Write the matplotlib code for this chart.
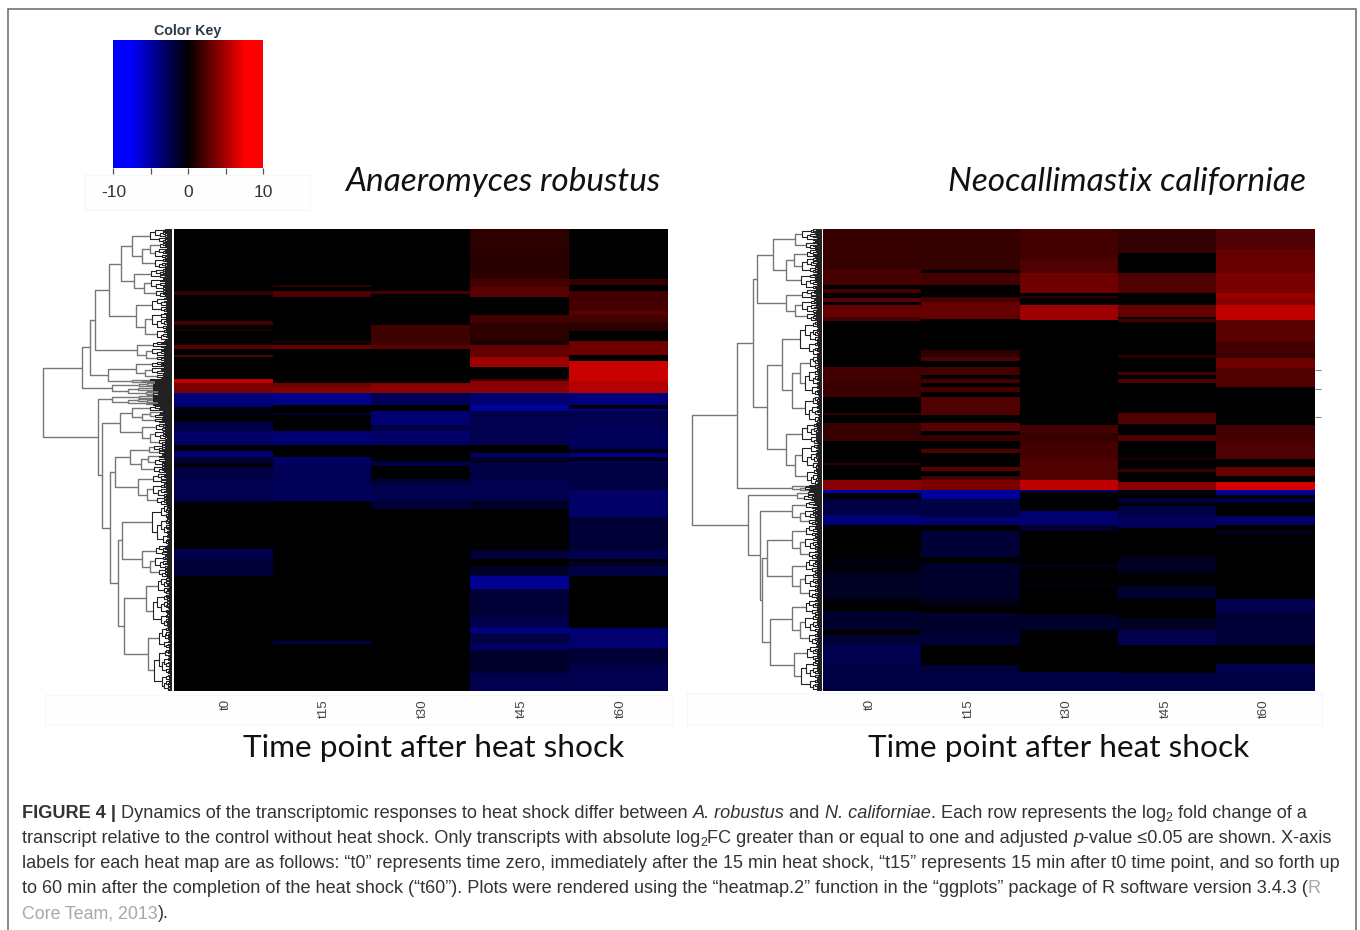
import numpy as np
import matplotlib
matplotlib.use("Agg")
import matplotlib.pyplot as plt
from matplotlib.colors import LinearSegmentedColormap
from matplotlib.collections import LineCollection
from matplotlib.patches import Rectangle
from matplotlib.transforms import ScaledTranslation

# ---------------- data: (end row, log2FC) runs, 231 rows, top to bottom ----------------
TIMEPOINTS = ["t0", "t15", "t30", "t45", "t60"]
KEY_TICKS = [-10, -5, 0, 5, 10]
KEY_LABELS = ["-10", "0", "10"]
KEY_LABEL_VALUES = [-10, 0, 10]
N_ROWS = 231
VALUE_GAIN = 0.68

A_T0 = [(31,0),(33,2.5),(46,0),(48,3),(50,0),(51,1),(58,0),(60,4),(63,0),(64,3.5),(75,0),(77,8.5),(82,5.5),
        (89,-5.5),(92,-.5),(93,-1),(96,0),(101,-3),(108,-4.5),(111,0),(114,-5),(117,-2.5),(119,0),(125,-3),
        (136,-3.5),(138,-1),(160,0),(165,-3.5),(168,-2.5),(173.5,-2.5),(231,0)]
A_T15 = [(28,0),(29,2),(31,0),(34,3.5),(56,0),(57,1.5),(58,0),(60,4.5),(77,0),(80,5),(82,6),(88,-6),(92,0),
         (93,-2),(101,0),(108,-5),(114,0),(117,-4.5),(125.5,-4),(136,-4),(139,-.3),(206,0),(207.5,-3),(231,0)]
A_T30 = [(31,0),(32.5,3),(48,0),(58,2.8),(60,4),(77,0),(82,6),(88,-4),(91,0),(98,-5),(101,-3),(108,-4.5),
         (116,0),(118.5,-3),(125,0),(128,-2.5),(136,-3.5),(140,-2.5),(231,0)]
A_T45 = [(12,2),(19,1.8),(25,2),(29,3),(34,4),(43,0),(47,3),(56,2),(58,1),(64,4.5),(69,7),(75,0),(76,3),(82,6),
         (88,-5),(91,-7),(93,-3),(108,-3.5),(112,0),(114,-4.5),(117,-1.5),(125.5,-3),(136,-3.5),(137.5,-1),
         (140,-2),(160.5,0),(165,-2.5),(169,0),(173.5,-2),(180,-6.5),(194,-2.5),(199.5,-3.5),(202,-6),
         (207.5,-3),(210.5,-4.5),(222,-2),(231,-3.5)]
A_T60 = [(25,0),(28,2.5),(31,0),(41,3),(43,4),(46.5,3),(51,2),(56,0),(63,5),(66,0),(76,9),(82,8),(88,-5.5),
         (90,-.5),(91,-6),(98,-3.5),(110,-4),(112,-1),(114,-6),(116,-1),(117,-4),(130.5,-3),(144,-4.5),
         (160.5,-2.5),(165,-3.5),(166.5,0),(169,-2),(173.5,-3),(199.5,0),(209.5,-5),(218,-2.5),(231,-3.5)]

N_T0 = [(20,2.5),(28,3.2),(30,0),(32,3),(34.5,0),(36.5,4),(38,0),(44,4.5),(46,3),(69,0),(75,3),(84,2.7),(92,0),
        (93,2),(97,0),(106,2.5),(117,0),(118,2),(125.5,0),(130.5,6),(132,-8),(135,0),(143,-3),(148,-5.5),
        (164,0),(172,-.5),(185,-1.5),(191,0),(200.5,-2),(203,0),(208,-2.5),(218,-3.5),(231,-3)]
N_T15 = [(20.5,2.3),(22,0),(28,3),(34,0),(36.5,3),(45,4.5),(60.5,0),(64,2),(66,3.5),(69,0),(73,3),(75,0),(77,3),
         (79,0),(81.5,3),(84,0),(93,3.5),(97,0),(101,4),(103,0),(106,2.5),(110,0),(112,3.5),(119,0),(121,4),
         (123.5,0),(125.5,3),(130.5,5.5),(135,-7),(144,-3),(148,-5),(151,0),(164,-2.5),(167,0),(185,-2),
         (188.5,-1),(192,0),(201,-2),(208,-2.5),(218,0),(222,-2.5),(231,-3)]
N_T30 = [(15,3),(22,3.5),(32,5),(33.5,0),(34.5,2),(38,0),(45.5,7),(98,0),(102,3),(106,2.5),(115,3),(125.5,3.5),
         (130.5,8.5),(131.5,-5),(141,0),(148,-5),(151,-2),(168,0),(169,-1.5),(178,0),(179,-1),(193,0),
         (200.5,-2),(221.5,0),(231,-3)]
N_T45 = [(12,2.2),(22,0),(32,3.5),(38,0),(44,4.5),(45,0),(46.5,3),(63,0),(64.5,2),(71.5,0),(73,3),(75,0),(77,3.5),
         (92,0),(97.5,3.5),(103,0),(106,3.5),(114,0),(115.5,1),(120,0),(121.5,2.5),(126.5,0),(130.5,6),(132,-1),
         (134.5,0),(137,-2.5),(138.5,0),(143,-3),(149.5,-4),(164,0),(172,-1.5),(178.5,0),(185,-2),(194.5,0),
         (200.5,-1.5),(208,-3.5),(222,0),(231,-3)]
N_T60 = [(10,3.5),(22,4.5),(32,5.5),(34.5,7),(38,6),(45.5,8.5),(56,4),(62,3),(64.5,2.5),(69.5,5),(79,3.5),(98,0),
         (106,3),(115,3.5),(119,0),(123.5,4.5),(126.5,0),(130.5,9.5),(133,-7),(134.5,0),(137,-3),(143.5,0),
         (148,-4.5),(151,0),(152.5,-1.5),(185,0),(192,-3.5),(208,-2.5),(217.5,0),(222,-3.5),(231,-3)]

A_COLUMNS = [A_T0, A_T15, A_T30, A_T45, A_T60]
N_COLUMNS = [N_T0, N_T15, N_T30, N_T45, N_T60]

# dendrograms: node = (height, upper, lower); leaf cluster = ("c", height, first row, last row)
def C(h, a, b):
    return ("c", h, a, b)

A_TREE = (129,
    (90,
        (82,
            (77,
                (63, (51, C(40, 0, 20), C(38, 20, 34)), C(36, 34, 56)),
                C(35, 56, 66)),
            (64, C(36, 66, 75), C(40, 75, 77))),
        C(60, 77, 83)),
    (74,
        C(60, 83, 88),
        (70,
            (52, C(40, 88, 97), C(30, 97, 108)),
            (62,
                (57, C(42, 108, 122), C(34, 122, 138)),
                (54,
                    (50, C(20, 138, 158), C(30, 158, 174)),
                    (48, C(26, 174, 199), C(24, 199, 231)))))))

N_TREE = (130,
    (85,
        (69,
            (65, C(49, 0, 30), C(36, 30, 46)),
            (55, C(40, 46, 97), C(36, 97, 128))),
        C(30, 128, 131)),
    (74,
        C(25, 131, 136),
        (62,
            C(30, 136, 148),
            (60,
                (55, C(30, 148, 165), C(30, 165, 185)),
                (52, C(30, 185, 208), C(28, 208, 231))))))

RIGHT_MARKS = [70.5, 80, 94]

TITLE_A = "Anaeromyces robustus"
TITLE_N = "Neocallimastix californiae"
XLAB = "Time point after heat shock"

DARK, GREY = "#333333", "#a8a8a8"
CAPTION = [
    ([("FIGURE 4 | ", "b", DARK), ("Dynamics of the transcriptomic responses to heat shock differ between ", "n", DARK),
      ("A. robustus", "i", DARK), (" and ", "n", DARK), ("N. californiae", "i", DARK),
      (". Each row represents the log", "n", DARK), ("2", "s", DARK), (" fold change of a", "n", DARK)], 1311),
    ([("transcript relative to the control without heat shock. Only transcripts with absolute log", "n", DARK),
      ("2", "s", DARK), ("FC greater than or equal to one and adjusted ", "n", DARK), ("p", "i", DARK),
      ("-value ≤0.05 are shown. X-axis", "n", DARK)], 1338),
    ([("labels for each heat map are as follows: “t0” represents time zero, immediately after the 15 min heat shock, "
       "“t15” represents 15 min after t0 time point, and so forth up", "n", DARK)], 1342),
    ([("to 60 min after the completion of the heat shock (“t60”). Plots were rendered using the “heatmap.2” function "
       "in the “ggplots” package of R software version 3.4.3 (", "n", DARK), ("R", "n", GREY)], 1325),
    ([("Core Team, 2013", "n", GREY), (").", "n", DARK)], 169),
]
CAPTION_Y = [818, 843, 868, 893, 918]

# ---------------- drawing ----------------
W, H = 1360, 930
fig = plt.figure(figsize=(W / 100, H / 100), dpi=100, facecolor="white")
plt.rcParams["font.family"] = ["Liberation Sans", "DejaVu Sans"]

def px_axes(x0, y0, x1, y1, **kw):
    return fig.add_axes([x0 / W, 1 - y1 / H, (x1 - x0) / W, (y1 - y0) / H], **kw)

bg = px_axes(0, 0, W, H)
bg.set_xlim(0, W); bg.set_ylim(H, 0); bg.axis("off")
renderer = fig.canvas.get_renderer()

# frame: open at the bottom
bg.plot([8, 8, 1356, 1356], [930, 9.5, 9.5, 930], color="#666666", lw=1.1, solid_joinstyle="miter")
# pale panels of the pasted plots
for (x0, y0, x1, y1) in [(84, 175, 310, 210), (45, 695, 673, 725), (687, 693, 1322, 725)]:
    bg.add_patch(Rectangle((x0, y0), x1 - x0, y1 - y0, fc="#fefefe", ec="#f6f6f6", lw=0.8))

cmap = LinearSegmentedColormap.from_list(
    "bkr", [(0, "#0000ff"), (0.115, "#0000ff"), (0.5, "#000000"), (0.885, "#ff0000"), (1, "#ff0000")], N=256)

def expand(runs):
    col = np.zeros(2 * N_ROWS)
    start = 0
    for end, val in runs:
        stop = int(round(end * 2))
        col[start:stop] = val * VALUE_GAIN
        start = stop
    return col

def heat(box, columns, shift_px):
    ax = px_axes(*box)
    mat = np.column_stack([expand(c) for c in columns])
    ax.imshow(mat, cmap=cmap, vmin=-10, vmax=10, aspect="auto", interpolation="nearest",
              extent=(-0.5, 4.5, N_ROWS, 0))
    ax.set_yticks([])
    ax.set_xticks(range(5), TIMEPOINTS, rotation=90, fontsize=9.6, color="#444444")
    ax.tick_params(axis="x", length=0, pad=6)
    for s in ax.spines.values():
        s.set_visible(False)
    off = ScaledTranslation(shift_px / 100, 0, fig.dpi_scale_trans)
    for lab in ax.get_xticklabels():
        lab.set_transform(lab.get_transform() + off)
    return ax

ax_a = heat((174, 229, 668, 691), A_COLUMNS, 2)
ax_n = heat((823, 229, 1315, 691), N_COLUMNS, -2)
ax_n.yaxis.tick_right()
ax_n.set_yticks(RIGHT_MARKS, [""] * len(RIGHT_MARKS))
ax_n.tick_params(axis="y", length=4, width=0.8, color="#888888")

def dendro(ax, node):
    outer, inner = [], []
    def bracket(h, a, b):
        seg = [(a[1], a[0]), (h, a[0]), (h, b[0]), (b[1], b[0])]
        (outer if h > 22 else inner).append(seg)
        return ((a[0] + b[0]) / 2, h)
    def comb(h, r0, r1, flip):
        if r1 - r0 <= 0.5:
            return ((r0 + r1) / 2, 0.0)
        m = r0 + (r1 - r0) * (0.34 if flip else 0.6)
        return bracket(h, comb(h * (0.55 if flip else 0.76), r0, m, not flip),
                       comb(h * (0.74 if flip else 0.58), m, r1, not flip))
    def walk(n):
        if n[0] == "c":
            return comb(n[1], n[2], n[3], True)
        return bracket(n[0], walk(n[1]), walk(n[2]))
    walk(node)
    ax.add_collection(LineCollection(outer, colors="#777777", linewidths=1.0, capstyle="butt"))
    ax.add_collection(LineCollection(inner, colors="#222222", linewidths=0.8, capstyle="butt"))

for box, tree in [((28, 229, 172, 691), A_TREE), ((678, 229, 822, 691), N_TREE)]:
    ax = px_axes(*box)
    ax.set_xlim(144, 0); ax.set_ylim(N_ROWS, 0); ax.axis("off")
    dendro(ax, tree)

# colour key
ax_k = px_axes(113, 40, 263, 168)
ax_k.imshow(np.linspace(-10, 10, 256)[None, :], cmap=cmap, vmin=-10, vmax=10, aspect="auto",
            extent=(-10, 10, 0, 1), interpolation="bilinear")
ax_k.set_yticks([]); ax_k.set_xticks(KEY_TICKS, [""] * 5)
ax_k.tick_params(axis="x", length=4.5, width=0.9, color="#555555")
for s in ax_k.spines.values():
    s.set_visible(False)
for v, lab in zip(KEY_LABEL_VALUES, KEY_LABELS):
    bg.text(188.5 + v * 7.5, 192, lab, ha="center", va="center", fontsize=12.5, color="#333333")
bg.text(188, 30.5, "Color Key", ha="center", va="center", fontsize=10.3, fontweight="bold", color="#2e3a4a")

def width(txt, **kw):
    t = bg.text(0, 0, txt + "|", **kw)
    w1 = t.get_window_extent(renderer).width
    t.set_text("|")
    w0 = t.get_window_extent(renderer).width
    t.remove()
    return w1 - w0

def fitted(txt, x0, x1, yc, **kw):
    size = 20 * (x1 - x0) / width(txt, fontsize=20, **kw)
    bg.text(x0, yc, txt, fontsize=size, ha="left", va="center", color="#111111", **kw)

fitted(TITLE_A, 345, 660, 182, family="Lato", style="italic")
fitted(TITLE_N, 948, 1305, 182, family="Lato", style="italic")
fitted(XLAB, 243, 624, 748, family="Lato")
fitted(XLAB, 868, 1249, 748, family="Lato")

# caption
STY = {"n": {}, "b": {"fontweight": "bold"}, "i": {"style": "italic"}, "s": {}}
BASE = 12.1
def seg_w(txt, kind, size):
    return width(txt, fontsize=size * (0.68 if kind == "s" else 1), **STY[kind])
for (segs, right), y in zip(CAPTION, CAPTION_Y):
    total = sum(seg_w(s, k, BASE) for s, k, _ in segs)
    size = BASE * (right - 22) / total
    x = 22
    for s, k, c in segs:
        fs = size * (0.68 if k == "s" else 1)
        bg.text(x, y + (3 if k == "s" else 0), s, fontsize=fs, color=c, ha="left", va="baseline", **STY[k])
        x += seg_w(s, k, size)

fig.savefig("out.png", dpi=100, facecolor="white")
